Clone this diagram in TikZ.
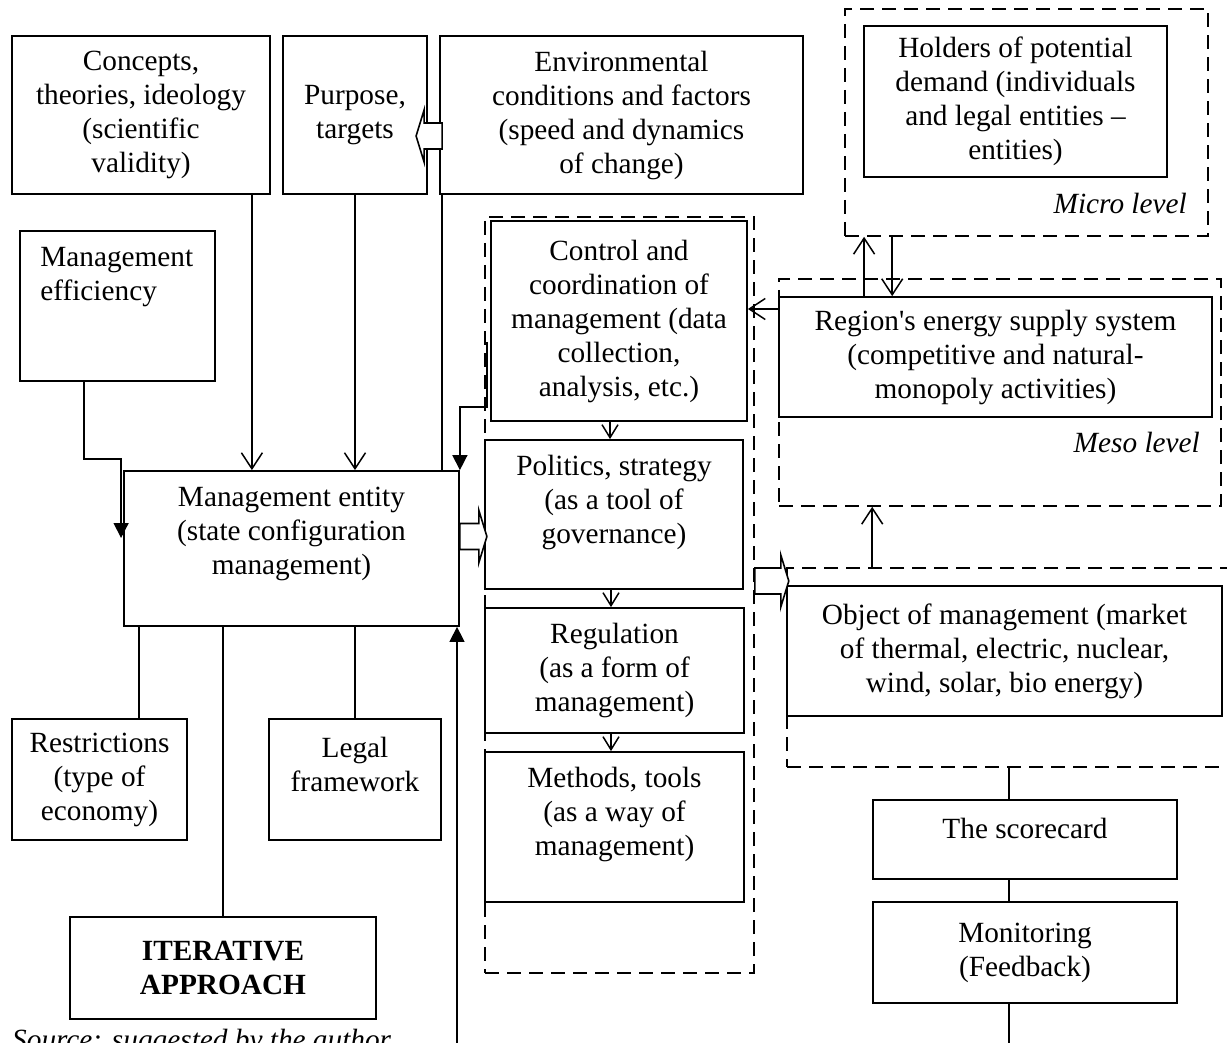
\documentclass[tikz,border=0pt]{standalone}
\usepackage{fontspec}
\setmainfont{Liberation Serif}
\usetikzlibrary{arrows.meta,positioning,calc}
\newcommand{\boxfont}{\fontsize{29.3}{34}\selectfont}
\tikzset{
  box/.style   ={draw, line width=1.8pt, fill=white, inner sep=0pt, align=center, font=\boxfont},
  txt/.style   ={inner sep=0pt, align=center, font=\boxfont},
  grp/.style   ={draw, dash pattern=on 14pt off 8pt, line width=1.6pt, inner sep=0pt},
  ln/.style    ={line width=1.5pt},
  arr/.style   ={-{Straight Barb[length=16pt, width=21pt]}, line width=1.5pt},
  sarr/.style  ={-{Straight Barb[length=13pt, width=16pt]}, line width=1.5pt},
  farr/.style  ={-{Triangle[length=15pt, width=15pt]}, line width=1.5pt},
  pics/blkarr/.style={code={
    \draw[line width=1.6pt, fill=white] (0,-13) -- (#1,-13) -- (#1,-26) -- (#1+8,0) -- (#1,26) -- (#1,13) -- (0,13) -- cycle;}},
}
\begin{document}
\begin{tikzpicture}[x=1pt, y=-1pt]
  \useasboundingbox (0,0) rectangle (1227,1043);
  % --- dashed groups ---
  \node[grp, minimum width=363pt, minimum height=227pt] (micro) at (1026.5,122.5) {};
  \node[grp, minimum width=442pt, minimum height=227pt] (meso) at (1000,392.5) {};
  \node[grp, minimum width=269pt, minimum height=756pt] (polgrp) at (619.5,595) {};
  \node[grp, minimum width=443pt, minimum height=199pt] (objgrp) at (1008.5,667.5) {};
  % --- top row ---
  \node[box, minimum width=258pt, minimum height=158pt] (concepts) at (141,115) {Concepts,\\theories, ideology\\(scientific\\validity)};
  \node[box, minimum width=144pt, minimum height=158pt] (purpose) at (355,115) {Purpose,\\targets};
  \node[box, minimum width=363pt, minimum height=158pt] (env) at (621.5,115) {Environmental\\conditions and factors\\(speed and dynamics\\of change)};
  \node[box, minimum width=303pt, minimum height=151pt] (holders) at (1015.5,101.5) {Holders of potential\\demand (individuals\\and legal entities --\\entities)};
  \node[txt, anchor=east, font=\boxfont\itshape] (microlbl) at (1187,203) {Micro level};
  % --- left column ---
  \node[box, minimum width=195pt, minimum height=150pt] (eff) at (117.5,306) {};
  \node[txt, anchor=west, align=left] (eff-t) at ([xshift=21pt, yshift=28.5pt]eff.west) {Management\\efficiency};
  \node[box, minimum width=335pt, minimum height=155pt] (ment) at (291.5,548.5) {};
  \node[txt] (ment-t) at ([yshift=14.5pt]ment.center) {Management entity\\(state configuration\\management)};
  \node[box, minimum width=175pt, minimum height=121pt] (restr) at (99.5,779.5) {Restrictions\\(type of\\economy)};
  \node[box, minimum width=172pt, minimum height=121pt] (legal) at (355,779.5) {};
  \node[txt] (legal-t) at ([yshift=15.5pt]legal.center) {Legal\\framework};
  \node[box, minimum width=306pt, minimum height=102pt, font=\boxfont\bfseries] (iter) at (223,968) {ITERATIVE\\APPROACH};
  \node[txt, anchor=north west, font=\boxfont\itshape] (source) at (12,1029) {Source: suggested by the author};
  % --- middle column ---
  \node[box, minimum width=256pt, minimum height=200pt] (control) at (619,321) {Control and\\coordination of\\management (data\\collection,\\analysis, etc.)};
  \node[box, minimum width=258pt, minimum height=149pt] (politics) at (614,514.5) {};
  \node[txt] (politics-t) at ([yshift=12.5pt]politics.center) {Politics, strategy\\(as a tool of\\governance)};
  \node[box, minimum width=259pt, minimum height=125pt] (regul) at (614.5,670.5) {Regulation\\(as a form of\\management)};
  \node[box, minimum width=259pt, minimum height=150pt] (methods) at (614.5,827) {};
  \node[txt] (methods-t) at ([yshift=13pt]methods.center) {Methods, tools\\(as a way of\\management)};
  % --- right column ---
  \node[box, minimum width=433pt, minimum height=120pt] (region) at (995.5,357) {Region\textquotesingle s energy supply system\\(competitive and natural-\\monopoly activities)};
  \node[txt, anchor=east, font=\boxfont\itshape] (mesolbl) at (1200,442) {Meso level};
  \node[box, minimum width=435pt, minimum height=130pt] (object) at (1004.5,651) {Object of management (market\\of thermal, electric, nuclear,\\wind, solar, bio energy)};
  \node[box, minimum width=304pt, minimum height=79pt] (score) at (1025,839.5) {};
  \node[txt] (score-t) at ([yshift=11.5pt]score.center) {The scorecard};
  \node[box, minimum width=304pt, minimum height=101pt] (monitor) at (1025,952.5) {Monitoring\\(Feedback)};
  \coordinate (fbl) at (457,1046);
  \coordinate (fbr) at (1009,1046);
  % --- into the management entity ---
  \draw[arr] ([xshift=-19pt]concepts.south east) coordinate (c1) -- (c1 |- ment.north);
  \draw[arr] (purpose.south) -- (purpose.south |- ment.north);
  \draw[ln] ([xshift=3pt]env.south west) coordinate (e1) -- (e1 |- ment.north);
  \draw[farr] ([xshift=-33.5pt]eff.south) |- ([xshift=-2pt, yshift=11pt]ment.north west) -- ([xshift=-2pt, yshift=10.5pt]ment.west);
  \draw[farr] ([xshift=-3pt, yshift=-21pt]control.west) -- ([xshift=-3pt, yshift=-86pt]control.west) -| (ment.north east);
  \draw[farr] (fbl) -- (fbl |- ment.south);
  % --- out of the management entity ---
  \draw[ln] ([xshift=16pt]ment.south west) coordinate (m1) -- (m1 |- restr.north);
  \draw[ln] (iter.north |- ment.south) -- (iter.north);
  \draw[ln] (legal.north |- ment.south) -- (legal.north);
  \pic at ([yshift=12pt]ment.east) {blkarr=19};
  % --- policy chain ---
  \draw[sarr] ([xshift=-9pt]control.south) coordinate (p1) -- (p1 |- politics.north);
  \draw[sarr] ([xshift=-3pt]politics.south) coordinate (p2) -- (p2 |- regul.north);
  \draw[sarr] ([xshift=-3.5pt]regul.south) coordinate (p3) -- (p3 |- methods.north);
  \pic at ([yshift=14pt]polgrp.east) {blkarr=26};
  \pic[rotate=180] at ([xshift=3pt, yshift=-21pt]env.west) {blkarr=18};
  % --- levels ---
  \draw[arr] ([yshift=48pt]region.west) coordinate (r0) -- (r0 -| control.east);
  \draw[arr] ([xshift=86pt]region.north west) coordinate (r1) -- (r1 |- micro.south);
  \draw[arr] ([xshift=48pt]micro.south west) coordinate (r2) -- (r2 |- region.north);
  \draw[arr] ([xshift=86pt]objgrp.north west) coordinate (o1) -- (o1 |- meso.south);
  % --- feedback chain ---
  \draw[ln] ([xshift=-16pt]score.north) coordinate (s1) -- (s1 |- objgrp.south);
  \draw[ln] (s1 |- score.south) -- (s1 |- monitor.north);
  \draw[ln] (s1 |- monitor.south) -- (fbr);
\end{tikzpicture}
\end{document}
